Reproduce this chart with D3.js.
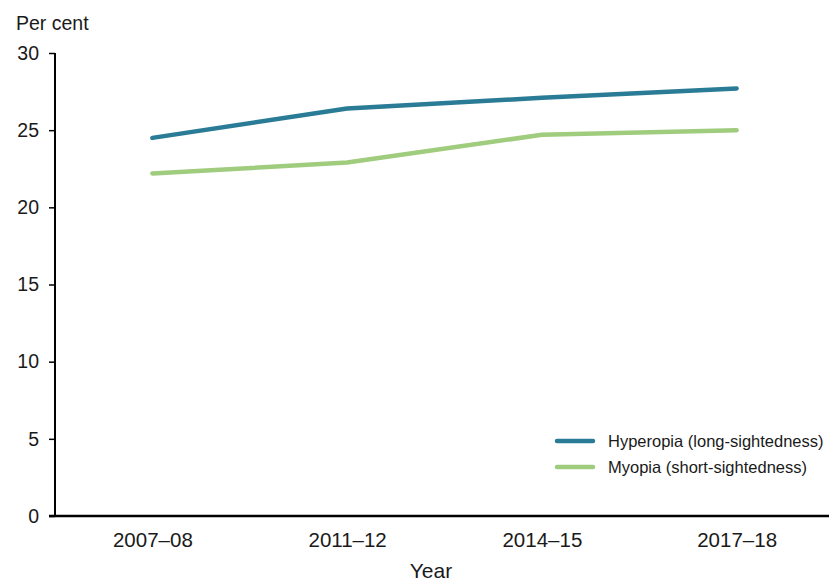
<!DOCTYPE html>
<html><head><meta charset="utf-8">
<script src="https://cdn.jsdelivr.net/npm/d3@7"></script>
<style>body{margin:0;background:#fff}svg{display:block}text{font-family:"Liberation Sans",Arial,sans-serif;fill:#1a1a1a}</style>
</head><body><svg id="c" width="829" height="582"></svg>
<script>
const categories = ["2007–08","2011–12","2014–15","2017–18"];
const hyperopia = [24.5, 26.4, 27.1, 27.7];
const myopia = [22.2, 22.9, 24.7, 25.0];
const yTicks = [0,5,10,15,20,25,30];
const seriesNames = ["Hyperopia (long-sightedness)","Myopia (short-sightedness)"];
const colors = ["#2a7b96","#a0cc7e"];

const svg = d3.select("#c");
const mLeft = 55, mRight = 834, mTop = 53, mBottom = 516;
const x = d3.scalePoint().domain(categories).range([mLeft, mRight]).padding(0.5);
const y = d3.scaleLinear().domain([0,30]).range([mBottom, mTop]);

// y axis
const ya = svg.append("g").attr("transform",`translate(${mLeft},0)`)
  .call(d3.axisLeft(y).tickValues(yTicks).tickSize(6).tickPadding(10));
ya.select(".domain").attr("stroke","#000").attr("stroke-width",2).attr("d",`M0,${mTop}V${mBottom}`);
ya.selectAll(".tick line").attr("stroke","#000").attr("stroke-width",1.5);
ya.selectAll(".tick text").attr("font-size",19.5).attr("fill","#1a1a1a").attr("font-family","Liberation Sans, Arial, sans-serif");

// x axis
const xa = svg.append("g").attr("transform",`translate(0,${mBottom})`)
  .call(d3.axisBottom(x).tickSize(0).tickPadding(16));
xa.select(".domain").attr("stroke","#000").attr("stroke-width",2.5).attr("d",`M49,0H829`);
xa.selectAll(".tick text").attr("font-size",20.5).attr("fill","#1a1a1a").attr("font-family","Liberation Sans, Arial, sans-serif");

svg.append("text").attr("x",16).attr("y",30).attr("font-size",19.5).text("Per cent");
svg.append("text").attr("x",431).attr("y",578).attr("text-anchor","middle").attr("font-size",21).text("Year");

const line = d3.line().x((d,i)=>x(categories[i])).y(d=>y(d));
[hyperopia, myopia].forEach((s,k)=>{
  svg.append("path").datum(s).attr("d",line).attr("fill","none")
    .attr("stroke",colors[k]).attr("stroke-width",4.5)
    .attr("stroke-linecap","round").attr("stroke-linejoin","round");
});

// legend
const lg = svg.append("g");
seriesNames.forEach((n,k)=>{
  const yy = 441 + k*26;
  lg.append("line").attr("x1",557).attr("x2",593).attr("y1",yy).attr("y2",yy)
    .attr("stroke",colors[k]).attr("stroke-width",4.5).attr("stroke-linecap","round");
  lg.append("text").attr("x",608).attr("y",yy+6).attr("font-size",16.5).text(n);
});
</script></body></html>
